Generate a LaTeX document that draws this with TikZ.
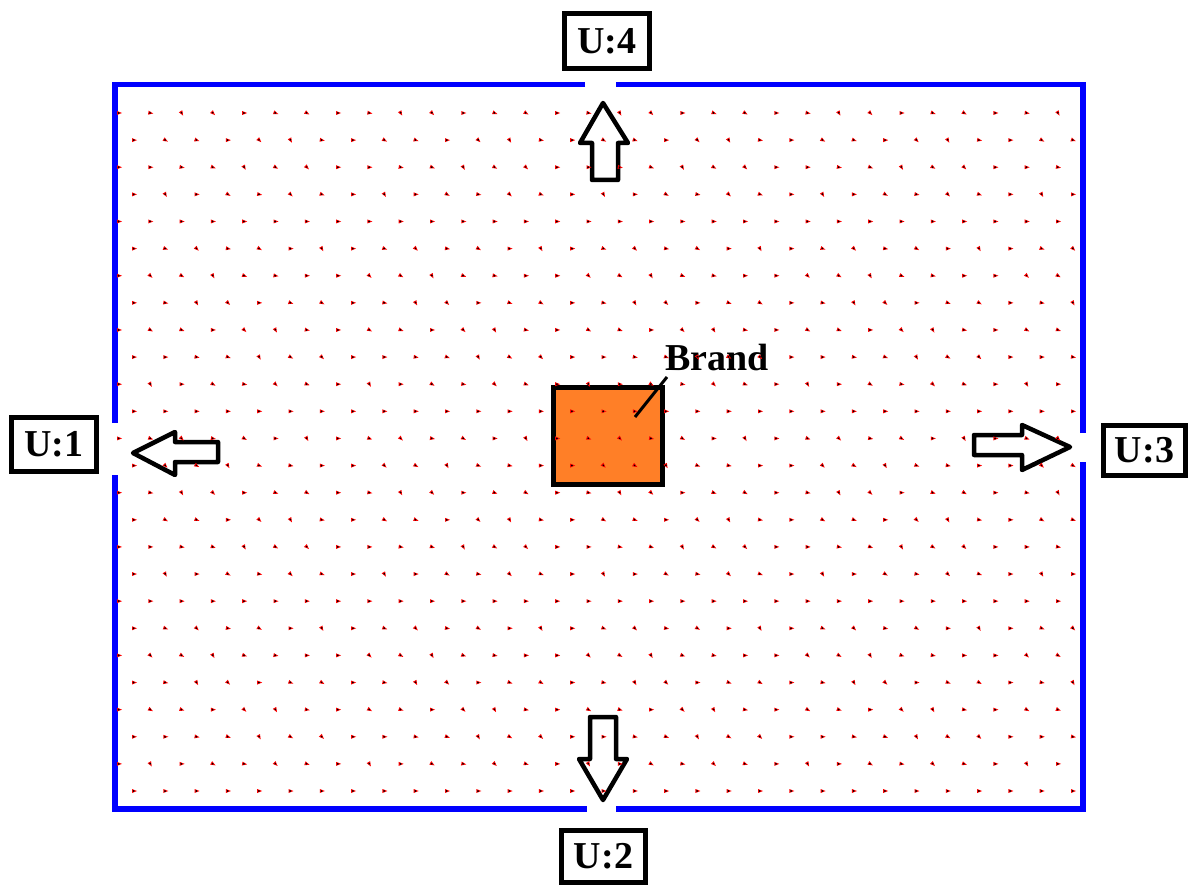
\documentclass[tikz,border=0pt]{standalone}
\usepackage{fontspec}
\setmainfont{Liberation Serif}
\definecolor{wallblue}{HTML}{0000FF}
\definecolor{fireorange}{HTML}{FF7F27}
\definecolor{flowred}{HTML}{FF0000}
\begin{document}
\begin{tikzpicture}[x=1pt,y=-1pt,
  wall/.style={draw=wallblue,line width=5.5pt,line join=miter,line cap=butt},
  outlet/.style={draw=black,line width=5pt,fill=white,inner sep=0pt,
    font=\fontsize{38}{40}\selectfont\bfseries},
  flowarrow/.style={draw=black,line width=4.5pt,fill=white,line join=round},
  source/.style={draw=black,line width=5pt,fill=fireorange},
  leader/.style={draw=black,line width=3pt},
  tag/.style={inner sep=0pt,font=\fontsize{38}{40}\selectfont\bfseries}]
\useasboundingbox (0,0) rectangle (1188,885);

% room walls with the four openings
\draw[wall] (585,84.5) -- (115,84.5) -- (115,423);
\draw[wall] (115,475) -- (115,809) -- (587,809);
\draw[wall] (616,809) -- (1083,809) -- (1083,462);
\draw[wall] (1083,433) -- (1083,84.5) -- (616,84.5);

% outlet labels
\node[outlet,minimum width=85pt,minimum height=55pt] (u4) at (607,41) {U:4};
\node[outlet,minimum width=85pt,minimum height=54pt] (u1) at (54,444.5) {U:1};
\node[outlet,minimum width=82pt,minimum height=50pt] (u3) at (1144.5,450.5) {U:3};
\node[outlet,minimum width=84pt,minimum height=52pt] (u2) at (603.5,856) {U:2};

% outflow arrows
\draw[flowarrow] (603,103) -- (628,143) -- (618,143) -- (618,180) -- (592,180) -- (592,143) -- (580,143) -- cycle;
\draw[flowarrow] (590,717) -- (616,717) -- (616,759) -- (627,759) -- (603,800) -- (579,759) -- (590,759) -- cycle;
\draw[flowarrow] (133,453) -- (175,432) -- (175,442) -- (218,442) -- (218,462) -- (175,462) -- (175,475) -- cycle;
\draw[flowarrow] (974,435) -- (1022,435) -- (1022,425) -- (1070,447) -- (1022,470) -- (1022,455) -- (974,455) -- cycle;

% fire source
\draw[source] (553.5,387.5) rectangle (662.5,484.5);
\coordinate (srcpt) at (635,417);
\node[tag,anchor=base west] (brand) at (665,370) {Brand};
\coordinate (tagfoot) at (667,377);
\draw[leader] (srcpt) -- (tagfoot);

% velocity field markers
\def\angs{{0,-20,-45,-10,-30,0,-60}}
\foreach \r in {0,...,25}{
  \foreach \k in {0,...,30}{
    \pgfmathsetmacro\xx{(mod(\r,2)==0 ? 119 : 134) + 31.3*\k}
    \pgfmathsetmacro\yy{113 + 27.12*\r}
    \pgfmathtruncatemacro\idx{mod(\r*7+\k*3+\r*\k,7)}
    \pgfmathsetmacro\ang{\angs[\idx]}
    \begin{scope}[shift={(\xx,\yy)},rotate=\ang]
      \fill[flowred] (3,0) -- (-2,2) -- (-2,-2) -- cycle;
      \fill[black] (-0.3,0) circle (1);
    \end{scope}
  }
}
\end{tikzpicture}
\end{document}
